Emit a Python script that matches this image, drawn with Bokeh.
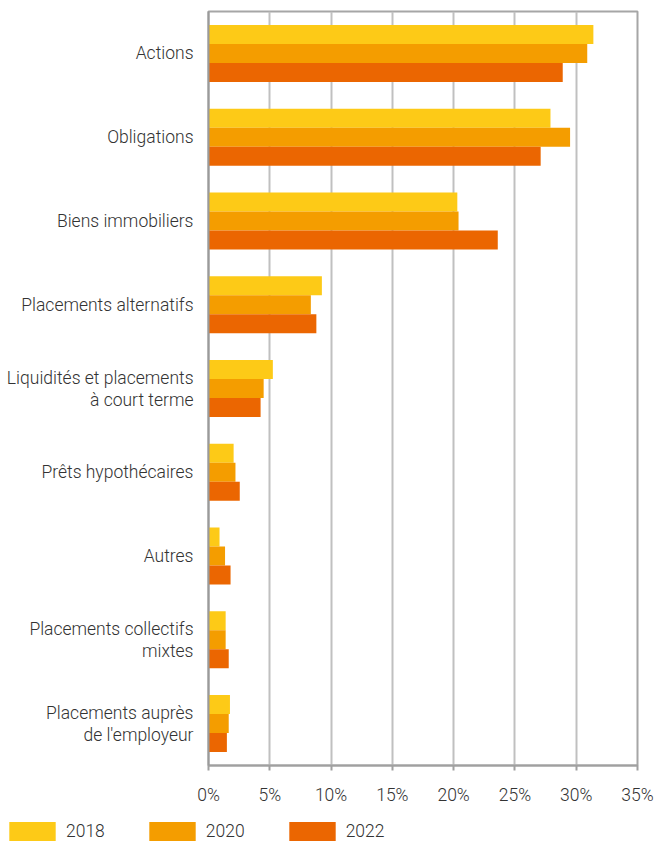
from bokeh.plotting import figure
from bokeh.layouts import column
from bokeh.models import ColumnDataSource, FactorRange, Range1d, FixedTicker, PrintfTickFormatter, Legend, LegendItem
from bokeh.transform import dodge
from bokeh.embed import file_html
from bokeh.resources import INLINE

categories = [
    "Actions",
    "Obligations",
    "Biens immobiliers",
    "Placements alternatifs",
    "Liquidités et placements\nà court terme",
    "Prêts hypothécaires",
    "Autres",
    "Placements collectifs\nmixtes",
    "Placements auprès\nde l'employeur",
]
years = ["2018", "2020", "2022"]
v2018 = [31.4, 27.9, 20.3, 9.25, 5.25, 2.05, 0.9, 1.4, 1.75]
v2020 = [30.9, 29.5, 20.4, 8.35, 4.5, 2.2, 1.35, 1.4, 1.65]
v2022 = [28.9, 27.1, 23.6, 8.8, 4.25, 2.55, 1.8, 1.65, 1.5]
x_ticks = [0, 5, 10, 15, 20, 25, 30, 35]

colors = ["#FDCA17", "#F49D00", "#EB6601"]
FONT = "Roboto Light, Roboto"
FSIZE = "17.5px"
TCOLOR = "#333333"

src = ColumnDataSource(dict(cat=categories, y2018=v2018, y2020=v2020, y2022=v2022))
cols = ["y2018", "y2020", "y2022"]

p = figure(
    width=655, height=812,
    y_range=FactorRange(factors=categories[::-1]),
    x_range=Range1d(0, 35),
    output_backend="svg", toolbar_location=None,
    min_border_left=208, min_border_right=18, min_border_top=11, min_border_bottom=47,
)

bh = 0.2267
offsets = [bh, 0.0, -bh]
for col, off, c in zip(cols, offsets, colors):
    p.hbar(y=dodge("cat", off, range=p.y_range), right=col, left=0, height=bh,
           source=src, fill_color=c, line_color=None)

# axes
p.xaxis.ticker = FixedTicker(ticks=x_ticks)
p.xaxis.formatter = PrintfTickFormatter(format="%d%%")
p.xaxis.axis_line_color = "#a0a0a0"
p.xaxis.axis_line_width = 2
p.xaxis.major_tick_line_color = "#a0a0a0"
p.xaxis.major_tick_line_width = 2
p.xaxis.major_tick_out = 5
p.xaxis.major_tick_in = 0
p.xaxis.minor_tick_line_color = None
p.xaxis.major_label_standoff = 14
p.xaxis.major_label_text_font = FONT
p.xaxis.major_label_text_font_size = FSIZE
p.xaxis.major_label_text_color = TCOLOR

p.yaxis.axis_line_color = "#9a9a9a"
p.yaxis.axis_line_width = 2
p.yaxis.major_tick_line_color = None
p.yaxis.minor_tick_line_color = None
p.yaxis.major_label_standoff = 9
p.yaxis.major_label_text_font = FONT
p.yaxis.major_label_text_font_size = FSIZE
p.yaxis.major_label_text_color = TCOLOR
p.yaxis.major_label_text_line_height = 1.1

p.xgrid.grid_line_color = "#c0c0c0"
p.xgrid.grid_line_width = 2
p.ygrid.grid_line_color = None

p.outline_line_color = "#a6a6a6"
p.outline_line_width = 2
p.background_fill_color = "white"
p.border_fill_color = "white"

# legend strip: its own small plot, not frame-aligned with the chart
lg = figure(
    width=655, height=29, output_backend="svg", toolbar_location=None,
    min_border=0, x_axis_location=None, y_axis_location=None,
    x_range=Range1d(0, 35), y_range=FactorRange(factors=categories[::-1]),
)
lg.frame_align = False
lg.grid.visible = False
lg.outline_line_color = None
items = []
for y, col, c in zip(years, cols, colors):
    r = lg.hbar(y="cat", right=col, left=0, height=bh, source=src,
                fill_color=c, line_color=None, visible=False)
    items.append(LegendItem(label=y, renderers=[r]))
legend = Legend(
    items=items,
    orientation="horizontal",
    location=(3, -2),
    glyph_width=58, glyph_height=24,
    label_standoff=5, spacing=38,
    padding=0, margin=0,
    inactive_fill_alpha=0,
    border_line_color=None, background_fill_alpha=0,
    label_text_font=FONT, label_text_font_size=FSIZE, label_text_color=TCOLOR,
)
lg.add_layout(legend, "center")

layout = column(p, lg, spacing=0)
open("out.html", "w").write(file_html(layout, INLINE))
